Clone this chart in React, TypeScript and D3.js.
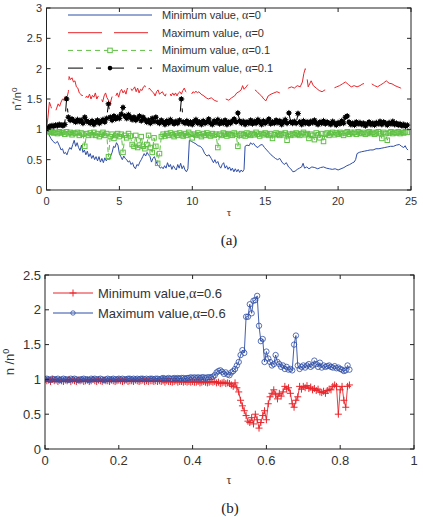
import React from "react";
import * as d3 from "d3";

// ---------- Panel (a) data ----------
const redTau = [0,0.1,0.2,0.3,0.4,0.5,0.6,0.7,0.8,0.9,1.0,1.1,1.2,1.3,1.4,1.5,1.55,1.65,1.75,1.85,1.95,2.05,2.15,2.25,2.35,2.45,2.55,2.65,2.75,2.85,2.95,3.05,3.15,3.25,3.35,3.45,3.55,3.65,3.75,3.85,3.95,4.05,4.15,4.25,4.35,4.45,4.55,4.65,4.75,4.85,4.95,5.05,5.15,5.25,5.35,5.45,5.55,5.65,5.75,5.85,5.95,6.05,6.15,6.25,6.35,6.45,6.55,6.65,6.75,6.85,6.95,7.05,7.15,7.25,7.35,7.45,7.55,7.65,7.75,7.85,7.95,8.05,8.15,8.25,8.35,8.45,8.55,8.65,8.75,8.85,8.95,9.05,9.15,9.25,9.35,9.45,9.55,9.65,9.75,9.85,9.95,10.05,10.15,10.25,10.35,10.45,10.6,10.8,10.95,11.1,11.3,11.5,11.7,11.9,12.1,12.3,12.5,12.7,12.9,13.05,13.2,13.35,13.45,13.55,13.7,13.85,14.0,14.15,14.3,14.45,14.6,14.75,14.9,15.05,15.2,15.4,15.6,15.8,16.0,16.2,16.4,16.6,16.8,17.0,17.2,17.4,17.55,17.65,17.75,17.85,17.95,18.05,18.15,18.3,18.5,18.7,18.9,19.1,19.3,19.5,19.7,19.9,20.1,20.3,20.5,20.7,20.9,21.1,21.3,21.5,21.7,21.9,22.1,22.3,22.5,22.7,22.9,23.1,23.3,23.5,23.7,23.9,24.1,24.3,24.5,24.7,24.8];
const redVal = [1.0,1.2,1.45,1.38,1.3,1.32,1.28,1.35,1.42,1.38,1.45,1.5,1.48,1.55,1.52,1.62,1.87,1.82,1.85,1.78,1.8,1.7,1.68,1.6,1.58,1.55,1.6,1.5,1.55,1.52,1.58,1.5,1.56,1.53,1.6,1.5,1.55,1.47,1.52,1.45,1.55,1.6,1.52,1.48,1.4,1.5,1.58,1.62,1.55,1.6,1.53,1.62,1.66,1.6,1.64,1.58,1.68,1.62,1.7,1.64,1.66,1.7,1.62,1.68,1.6,1.66,1.64,1.7,1.72,1.65,1.6,1.68,1.65,1.62,1.6,1.55,1.62,1.65,1.58,1.6,1.62,1.57,1.55,1.62,1.66,1.6,1.55,1.6,1.56,1.6,1.55,1.6,1.62,1.58,1.64,1.68,1.62,1.6,1.65,1.62,1.58,1.62,1.6,1.63,1.6,1.62,1.58,1.55,1.52,1.5,1.52,1.48,1.46,1.48,1.45,1.5,1.48,1.52,1.55,1.6,1.62,1.65,1.72,1.66,1.7,1.75,1.7,1.68,1.65,1.62,1.58,1.55,1.5,1.47,1.55,1.58,1.6,1.62,1.6,1.65,1.64,1.68,1.7,1.68,1.72,1.7,1.78,1.92,2.0,1.88,1.7,1.75,1.8,1.72,1.68,1.64,1.62,1.65,1.66,1.65,1.68,1.7,1.72,1.75,1.78,1.74,1.7,1.72,1.7,1.72,1.75,1.76,1.8,1.75,1.72,1.7,1.73,1.76,1.8,1.76,1.75,1.72,1.7,1.68,1.65,1.63,1.62];

const blueTau = [0,0.15,0.3,0.45,0.6,0.75,0.9,1.0,1.1,1.2,1.3,1.4,1.5,1.6,1.7,1.8,1.9,2.0,2.1,2.2,2.3,2.4,2.5,2.6,2.7,2.8,2.9,3.0,3.1,3.2,3.3,3.4,3.5,3.6,3.7,3.8,3.9,4.0,4.1,4.2,4.3,4.4,4.5,4.6,4.7,4.8,4.9,5.0,5.1,5.2,5.3,5.4,5.5,5.6,5.7,5.8,5.9,6.0,6.1,6.2,6.3,6.4,6.5,6.6,6.7,6.8,6.9,7.0,7.1,7.2,7.3,7.4,7.5,7.6,7.7,7.8,7.9,8.0,8.1,8.2,8.3,8.4,8.5,8.6,8.7,8.8,8.9,9.0,9.1,9.2,9.3,9.4,9.5,9.6,9.7,9.8,9.95,10.1,10.25,10.4,10.55,10.7,10.85,11.0,11.15,11.3,11.45,11.55,11.65,11.75,11.85,11.95,12.05,12.15,12.25,12.35,12.45,12.55,12.65,12.75,12.85,12.95,13.05,13.15,13.25,13.35,13.45,13.55,13.62,13.75,13.9,14.0,14.1,14.2,14.35,14.5,14.65,14.8,14.95,15.1,15.25,15.4,15.55,15.7,15.85,16.0,16.15,16.3,16.45,16.6,16.75,16.9,17.05,17.2,17.35,17.5,17.6,17.7,17.85,18.0,18.2,18.4,18.6,18.8,19.0,19.2,19.4,19.6,19.8,20.0,20.2,20.4,20.6,20.8,21.0,21.1,21.2,21.3,21.45,21.6,21.8,22.0,22.2,22.4,22.6,22.8,23.0,23.2,23.4,23.6,23.8,24.0,24.2,24.35,24.5,24.6,24.7,24.8];
const blueVal = [1.0,0.92,0.85,0.8,0.77,0.8,0.72,0.66,0.68,0.6,0.62,0.58,0.65,0.7,0.67,0.75,0.82,0.72,0.78,0.7,0.65,0.74,0.62,0.66,0.58,0.64,0.55,0.6,0.52,0.57,0.5,0.55,0.48,0.55,0.46,0.52,0.45,0.53,0.48,0.52,0.5,0.56,0.62,0.72,0.7,0.78,0.74,0.6,0.55,0.5,0.56,0.52,0.5,0.46,0.48,0.42,0.45,0.38,0.35,0.42,0.4,0.46,0.5,0.55,0.6,0.56,0.62,0.58,0.55,0.46,0.52,0.55,0.48,0.42,0.4,0.36,0.38,0.35,0.4,0.36,0.45,0.38,0.42,0.34,0.4,0.36,0.33,0.42,0.36,0.44,0.35,0.4,0.33,0.3,0.35,0.82,0.8,0.78,0.76,0.73,0.72,0.68,0.6,0.56,0.58,0.52,0.45,0.5,0.44,0.47,0.4,0.36,0.42,0.45,0.36,0.4,0.34,0.38,0.32,0.36,0.3,0.35,0.3,0.34,0.29,0.33,0.3,0.34,0.72,0.74,0.73,0.78,0.75,0.77,0.72,0.7,0.74,0.75,0.7,0.66,0.62,0.58,0.55,0.52,0.5,0.52,0.46,0.42,0.45,0.38,0.35,0.3,0.31,0.34,0.36,0.38,0.44,0.36,0.38,0.35,0.38,0.37,0.35,0.37,0.38,0.36,0.35,0.34,0.35,0.33,0.35,0.37,0.4,0.42,0.45,0.46,0.5,0.6,0.62,0.63,0.64,0.65,0.66,0.66,0.68,0.68,0.69,0.7,0.71,0.72,0.72,0.74,0.75,0.72,0.7,0.73,0.68,0.66];

// regular sampling grid for the alpha = 0.1 runs (step 0.125)
const tauGridA = d3.range(0, 199).map((i) => i * 0.125);
const blackVal = [
  1.0,1.03,1.05,1.06,1.05,1.07,1.06,1.08,
  1.07,1.06,1.08,1.5,1.2,1.15,1.17,1.14,
  1.12,1.16,1.13,1.15,1.1,1.2,1.14,1.12,
  1.1,1.14,1.08,1.12,1.15,1.1,1.13,1.16,
  1.12,1.18,1.42,1.2,1.15,1.22,1.17,1.2,
  1.18,1.25,1.36,1.22,1.18,1.24,1.2,1.16,
  1.2,1.15,1.18,1.22,1.14,1.2,1.16,1.12,
  1.15,1.1,1.18,1.13,1.2,1.12,1.1,1.15,
  1.12,1.08,1.14,1.1,1.16,1.12,1.09,1.13,
  1.1,1.15,1.5,1.12,1.1,1.14,1.09,1.12,
  1.08,1.13,1.16,1.1,1.12,1.08,1.14,1.1,
  1.12,1.17,1.1,1.08,1.14,1.11,1.16,1.09,
  1.13,1.1,1.15,1.08,1.12,1.1,1.14,1.17,
  1.12,1.27,1.14,1.1,1.13,1.08,1.12,1.1,
  1.15,1.09,1.13,1.1,1.16,1.12,1.08,1.14,
  1.1,1.13,1.17,1.09,1.12,1.1,1.15,1.11,
  1.14,1.08,1.12,1.16,1.1,1.27,1.12,1.1,
  1.13,1.1,1.26,1.12,1.08,1.14,1.1,1.12,
  1.09,1.13,1.11,1.15,1.1,1.08,1.12,1.1,
  1.14,1.09,1.12,1.1,1.08,1.13,1.1,1.07,
  1.11,1.09,1.14,1.1,1.2,1.22,1.12,1.08,
  1.1,1.07,1.12,1.09,1.11,1.08,1.1,1.06,
  1.09,1.12,1.08,1.1,1.07,1.11,1.09,1.13,
  1.08,1.12,1.1,1.07,1.11,1.09,1.13,1.08,
  1.1,1.07,1.09,1.06,1.08,1.05,1.07,
];
const greenVal = [
  1.0,0.97,0.95,0.96,0.94,0.95,0.93,0.96,
  0.94,0.95,0.92,0.96,0.93,0.95,0.91,0.94,
  0.93,0.95,0.9,0.94,0.92,0.72,0.93,0.9,
  0.94,0.91,0.95,0.9,0.93,0.88,0.92,0.95,
  0.9,0.93,0.55,0.88,0.92,0.85,0.9,0.93,
  0.88,0.92,0.62,0.9,0.86,0.93,0.89,0.75,
  0.72,0.9,0.7,0.74,0.88,0.72,0.68,0.75,
  0.9,0.7,0.62,0.86,0.72,0.44,0.6,0.88,
  0.92,0.89,0.93,0.9,0.94,0.91,0.88,0.93,
  0.9,0.94,0.91,0.89,0.93,0.9,0.95,0.92,
  0.86,0.92,0.9,0.94,0.91,0.88,0.93,0.9,
  0.94,0.91,0.89,0.93,0.9,0.92,0.7,0.92,
  0.9,0.94,0.92,0.89,0.93,0.91,0.9,0.94,
  0.92,0.72,0.9,0.93,0.91,0.89,0.94,0.92,
  0.9,0.93,0.91,0.95,0.92,0.89,0.93,0.91,
  0.94,0.92,0.9,0.93,0.85,0.91,0.94,0.92,
  0.9,0.93,0.91,0.94,0.82,0.92,0.9,0.93,
  0.91,0.94,0.92,0.9,0.93,0.95,0.91,0.93,
  0.85,0.92,0.9,0.83,0.94,0.91,0.86,0.93,
  0.8,0.92,0.94,0.9,0.93,0.95,0.91,0.94,
  0.92,0.95,0.93,0.9,0.94,0.96,0.92,0.95,
  0.93,0.95,0.92,0.96,0.94,0.93,0.95,0.92,
  0.94,0.96,0.93,0.95,0.92,0.94,0.96,0.93,
  0.85,0.95,0.93,0.82,0.94,0.96,0.93,0.95,
  0.94,0.96,0.93,0.95,0.94,0.96,0.95,
];

const ticksAX = [0, 5, 10, 15, 20, 25];
const ticksAY = [0, 0.5, 1, 1.5, 2, 2.5, 3];

// ---------- Panel (b) data ----------
const tauGridB = d3.range(0, 166).map((i) => i * 0.005);
const maxB = [
  1.0,1.01,1.0,0.99,1.01,1.0,1.0,1.01,0.99,1.0,
  1.01,1.0,1.0,0.99,1.01,1.0,1.01,1.0,0.99,1.0,
  1.0,1.01,1.0,1.0,0.99,1.01,1.0,1.01,1.0,1.0,
  1.01,1.0,0.99,1.0,1.01,1.0,1.0,1.01,1.0,1.0,
  1.01,1.0,1.01,1.0,1.0,1.01,1.01,1.0,1.01,1.0,
  1.01,1.0,1.01,1.01,1.0,1.01,1.0,1.01,1.01,1.0,
  1.01,1.01,1.0,1.01,1.02,1.01,1.01,1.02,1.01,1.01,
  1.02,1.01,1.02,1.01,1.02,1.02,1.01,1.02,1.02,1.03,
  1.02,1.03,1.02,1.03,1.02,1.03,1.03,1.02,1.03,1.03,
  1.03,1.04,1.06,1.1,1.12,1.13,1.11,1.08,1.1,1.07,
  1.06,1.1,1.12,1.15,1.2,1.25,1.35,1.42,1.38,1.9,
  1.9,2.08,1.95,2.13,2.14,2.2,1.77,1.55,1.58,1.25,
  1.4,1.3,1.25,1.2,1.22,1.35,1.25,1.22,1.18,1.2,
  1.15,1.18,1.14,1.15,1.13,1.5,1.63,1.2,1.15,1.18,
  1.2,1.17,1.2,1.22,1.18,1.2,1.27,1.22,1.18,1.24,
  1.17,1.2,1.18,1.19,1.2,1.18,1.17,1.19,1.16,1.17,
  1.15,1.14,1.12,1.13,1.2,1.14,
];
const minB = [
  1.0,0.98,0.99,0.97,1.0,0.98,0.99,0.97,0.99,0.98,
  0.97,0.99,0.98,1.0,0.97,0.99,0.98,0.97,0.99,0.98,
  0.99,0.97,0.98,0.99,0.97,0.98,1.0,0.98,0.97,0.99,
  0.98,0.97,0.99,0.98,0.98,0.97,0.99,0.98,0.97,0.98,
  0.99,0.98,0.97,0.98,0.99,0.97,0.98,0.98,0.97,0.99,
  0.98,0.97,0.98,0.99,0.97,0.98,0.97,0.98,0.98,0.97,
  0.98,0.97,0.98,0.97,0.98,0.96,0.98,0.97,0.97,0.96,
  0.97,0.98,0.96,0.97,0.97,0.96,0.97,0.96,0.97,0.96,
  0.97,0.96,0.96,0.97,0.95,0.96,0.97,0.96,0.95,0.96,
  0.97,0.96,0.97,0.95,0.96,0.94,0.95,0.96,0.94,0.95,
  0.94,0.92,0.9,0.95,0.88,0.82,0.7,0.62,0.55,0.48,
  0.4,0.38,0.45,0.36,0.5,0.42,0.3,0.38,0.48,0.55,
  0.42,0.65,0.75,0.8,0.85,0.78,0.72,0.8,0.76,0.82,
  0.9,0.86,0.88,0.8,0.65,0.6,0.7,0.75,0.9,0.86,
  0.9,0.88,0.91,0.87,0.89,0.85,0.87,0.84,0.86,0.82,
  0.81,0.83,0.8,0.84,0.86,0.85,0.9,0.92,0.9,0.5,
  0.85,0.9,0.7,0.6,0.9,0.92,
];
const ticksBX = [0, 0.2, 0.4, 0.6, 0.8, 1];
const ticksBY = [0, 0.5, 1, 1.5, 2, 2.5];

const legendA = [
  { label: "Minimum value, ", a: "0" },
  { label: "Maximum value, ", a: "0" },
  { label: "Minimum value, ", a: "0.1" },
  { label: "Maximum value, ", a: "0.1" },
];
const legendB = [
  { label: "Minimum value,", a: "0.6" },
  { label: "Maximum value,", a: "0.6" },
];

const C_BLUE = "#2f4ea6";
const C_RED = "#e8262c";
const C_GREEN = "#5ec043";
const C_TXT = "#333";
const FONT = "'Liberation Sans', Arial, sans-serif";

type Axes = { x: d3.ScaleLinear<number, number>; y: d3.ScaleLinear<number, number> };

function Frame({ x, y, xt, yt, fs, xfmt, yLabelX, xLabelY }: Axes & { xt: number[]; yt: number[]; fs: number; xfmt: (v: number) => string; yLabelX: number; xLabelY: number }) {
  const [x0, x1] = x.range();
  const [y0, y1] = y.range();
  const tl = 4;
  return (
    <g>
      <rect x={x0} y={y1} width={x1 - x0} height={y0 - y1} fill="none" stroke="#222" strokeWidth={1} />
      {xt.map((t) => (
        <g key={"x" + t}>
          <line x1={x(t)} x2={x(t)} y1={y0} y2={y0 - tl} stroke="#222" />
          <line x1={x(t)} x2={x(t)} y1={y1} y2={y1 + tl} stroke="#222" />
          <text x={x(t)} y={xLabelY} fontSize={fs} fontFamily={FONT} fill={C_TXT} textAnchor="middle">{xfmt(t)}</text>
        </g>
      ))}
      {yt.map((t) => (
        <g key={"y" + t}>
          <line x1={x0} x2={x0 + tl} y1={y(t)} y2={y(t)} stroke="#222" />
          <line x1={x1} x2={x1 - tl} y1={y(t)} y2={y(t)} stroke="#222" />
          <text x={yLabelX} y={y(t)} dy="0.35em" fontSize={fs} fontFamily={FONT} fill={C_TXT} textAnchor="end">{String(t)}</text>
        </g>
      ))}
    </g>
  );
}

function Star({ cx, cy, s }: { cx: number; cy: number; s: number }) {
  const d = s * 0.7;
  return (
    <g stroke="#000" strokeWidth={0.9}>
      <line x1={cx - s} x2={cx + s} y1={cy} y2={cy} />
      <line x1={cx} x2={cx} y1={cy - s} y2={cy + s} />
      <line x1={cx - d} x2={cx + d} y1={cy - d} y2={cy + d} />
      <line x1={cx - d} x2={cx + d} y1={cy + d} y2={cy - d} />
      <circle cx={cx} cy={cy} r={2.2} fill="#000" stroke="none" />
    </g>
  );
}

export default function App() {
  // Panel (a)
  const xa = d3.scaleLinear().domain([0, 25]).range([46.5, 411]);
  const ya = d3.scaleLinear().domain([0, 3]).range([190, 8]);
  // Panel (b)
  const xb = d3.scaleLinear().domain([0, 1]).range([45, 414]);
  const yb = d3.scaleLinear().domain([0, 2.5]).range([449, 275]);

  const lineA = d3.line<[number, number]>().x((d) => xa(d[0])).y((d) => ya(d[1]));
  const lineB = d3.line<[number, number]>().x((d) => xb(d[0])).y((d) => yb(d[1]));

  const red = redTau.map((t, i) => [t, redVal[i]] as [number, number]);
  const blue = blueTau.map((t, i) => [t, blueVal[i]] as [number, number]);
  const black = tauGridA.map((t, i) => [t, blackVal[i]] as [number, number]);
  const green = tauGridA.map((t, i) => [t, greenVal[i]] as [number, number]);
  const bMax = tauGridB.map((t, i) => [t, maxB[i]] as [number, number]);
  const bMin = tauGridB.map((t, i) => [t, minB[i]] as [number, number]);

  const sq = 4.5;
  const plus = 3.5;

  return (
    <svg width={423} height={517} style={{ position: "absolute", left: 0, top: 0, background: "#fff" }}>
      <defs>
        <clipPath id="clipA"><rect x={46.5} y={8} width={364.5} height={182} /></clipPath>
        <clipPath id="clipB"><rect x={45} y={275} width={369} height={174} /></clipPath>
      </defs>

      {/* ===== Panel (a) ===== */}
      <g clipPath="url(#clipA)">
        <path d={lineA(red) || ""} fill="none" stroke={C_RED} strokeWidth={1} strokeDasharray="34,10" />
        <path d={lineA(blue) || ""} fill="none" stroke={C_BLUE} strokeWidth={1} />
        <path d={lineA(green) || ""} fill="none" stroke={C_GREEN} strokeWidth={1} strokeDasharray="5,3" />
        {green.map((d, i) => (
          <rect key={"g" + i} x={xa(d[0]) - sq / 2} y={ya(d[1]) - sq / 2} width={sq} height={sq} fill="none" stroke={C_GREEN} strokeWidth={1} />
        ))}
        <path d={lineA(black) || ""} fill="none" stroke="#000" strokeWidth={1} strokeDasharray="14,8,4,8" />
        {black.map((d, i) => (
          <Star key={"k" + i} cx={xa(d[0])} cy={ya(d[1])} s={3} />
        ))}
      </g>
      <Frame x={xa} y={ya} xt={ticksAX} yt={ticksAY} fs={11} xfmt={(v) => String(v)} yLabelX={42} xLabelY={205} />

      {/* legend (a) */}
      {legendA.map((l, i) => {
        const ly = 15 + i * 17.7;
        return (
          <g key={"la" + i}>
            {i === 0 && <line x1={68} x2={152} y1={ly} y2={ly} stroke={C_BLUE} strokeWidth={1} />}
            {i === 1 && <line x1={68} x2={152} y1={ly} y2={ly} stroke={C_RED} strokeWidth={1} strokeDasharray="34,12" />}
            {i === 2 && (
              <g>
                <line x1={68} x2={152} y1={ly} y2={ly} stroke={C_GREEN} strokeWidth={1} strokeDasharray="5,4" />
                <rect x={110 - sq / 2} y={ly - sq / 2} width={sq} height={sq} fill="#fff" stroke={C_GREEN} strokeWidth={1} />
              </g>
            )}
            {i === 3 && (
              <g>
                <line x1={68} x2={152} y1={ly} y2={ly} stroke="#000" strokeWidth={1} strokeDasharray="15,13,5,8" />
                <circle cx={110} cy={ly} r={2.3} fill="#000" />
              </g>
            )}
            <text x={162} y={ly} dy="0.35em" fontSize={11} fontFamily={FONT} fill={C_TXT}>
              {l.label}
              <tspan fontFamily="'Liberation Serif', 'DejaVu Serif', serif" fontSize={12}>α</tspan>
              {"=" + l.a}
            </text>
          </g>
        );
      })}

      {/* axis labels (a) */}
      <text transform="translate(21,99) rotate(-90)" textAnchor="middle" fontSize={11} fontFamily={FONT} fill={C_TXT}>
        n<tspan dy={-4} fontSize={8}>*</tspan><tspan dy={4}>/n</tspan><tspan dy={-4} fontSize={8}>0</tspan>
      </text>
      <text x={229} y={216} textAnchor="middle" fontSize={11} fontFamily="'Liberation Serif', serif" fill={C_TXT}>τ</text>
      <text x={229} y={245} textAnchor="middle" fontSize={15} fontFamily="'Liberation Serif', 'Times New Roman', serif" fill="#222">(a)</text>

      {/* ===== Panel (b) ===== */}
      <g clipPath="url(#clipB)">
        <path d={lineB(bMin) || ""} fill="none" stroke={C_RED} strokeWidth={0.9} />
        {bMin.map((d, i) => (
          <g key={"p" + i} stroke={C_RED} strokeWidth={1}>
            <line x1={xb(d[0]) - plus} x2={xb(d[0]) + plus} y1={yb(d[1])} y2={yb(d[1])} />
            <line x1={xb(d[0])} x2={xb(d[0])} y1={yb(d[1]) - plus} y2={yb(d[1]) + plus} />
          </g>
        ))}
        <path d={lineB(bMax) || ""} fill="none" stroke={C_BLUE} strokeWidth={0.9} />
        {bMax.map((d, i) => (
          <circle key={"o" + i} cx={xb(d[0])} cy={yb(d[1])} r={2.7} fill="none" stroke={C_BLUE} strokeWidth={0.8} />
        ))}
      </g>
      <Frame x={xb} y={yb} xt={ticksBX} yt={ticksBY} fs={13} xfmt={(v) => String(v)} yLabelX={41} xLabelY={465} />

      {/* legend (b) */}
      {legendB.map((l, i) => {
        const ly = 293 + i * 20;
        const col = i === 0 ? C_RED : C_BLUE;
        return (
          <g key={"lb" + i}>
            <line x1={53} x2={93} y1={ly} y2={ly} stroke={col} strokeWidth={1} />
            {i === 0 ? (
              <g stroke={col} strokeWidth={1}>
                <line x1={73 - plus} x2={73 + plus} y1={ly} y2={ly} />
                <line x1={73} x2={73} y1={ly - plus} y2={ly + plus} />
              </g>
            ) : (
              <circle cx={73} cy={ly} r={2.2} fill="none" stroke={col} strokeWidth={0.8} />
            )}
            <text x={98} y={ly} dy="0.35em" fontSize={13} fontFamily={FONT} fill={C_TXT}>
              {l.label}
              <tspan fontFamily="'Liberation Serif', 'DejaVu Serif', serif" fontSize={14}>α</tspan>
              {"=" + l.a}
            </text>
          </g>
        );
      })}

      {/* axis labels (b) */}
      <text transform="translate(14,362) rotate(-90)" textAnchor="middle" fontSize={13} fontFamily={FONT} fill={C_TXT}>
        n<tspan> /n</tspan><tspan dy={-5} fontSize={9}>0</tspan>
      </text>
      <text x={229} y={484} textAnchor="middle" fontSize={12} fontFamily="'Liberation Serif', serif" fill={C_TXT}>τ</text>
      <text x={230} y={513} textAnchor="middle" fontSize={15} fontFamily="'Liberation Serif', 'Times New Roman', serif" fill="#222">(b)</text>
    </svg>
  );
}
